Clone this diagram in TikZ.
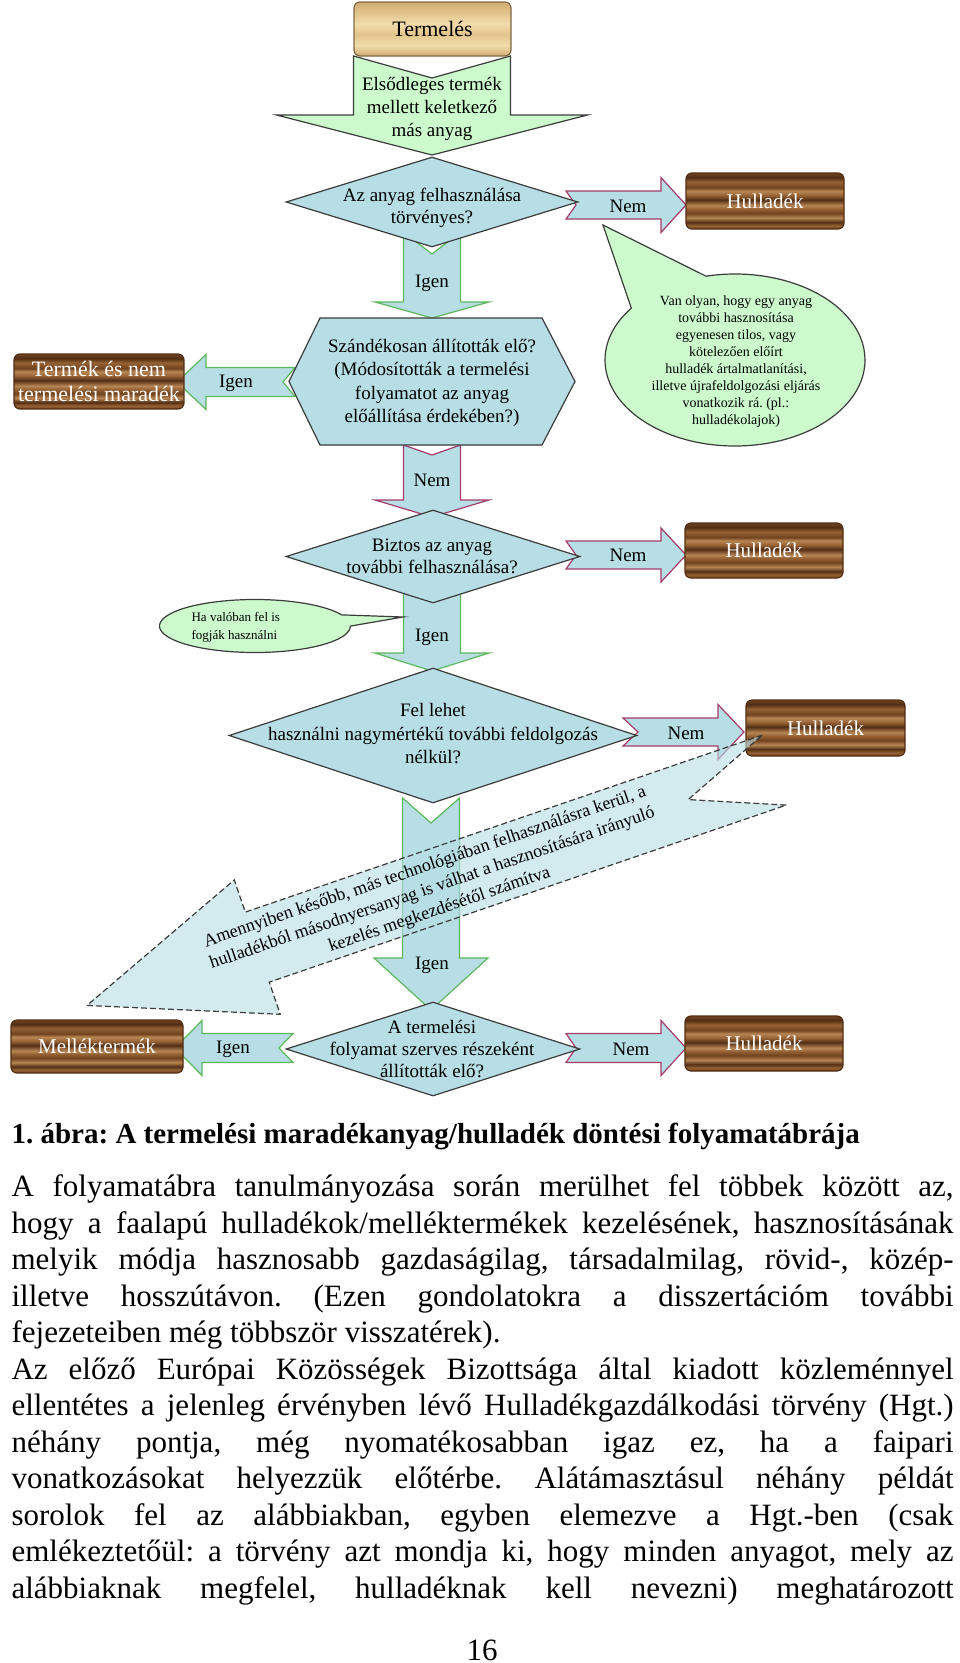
\documentclass[tikz,border=0pt]{standalone}
\usepackage{fontspec}
\setmainfont{Liberation Serif}
\frenchspacing
\usetikzlibrary{shapes.geometric,shapes.callouts}

\definecolor{leafgreen}{RGB}{204,250,204}
\definecolor{paleblue}{RGB}{183,221,229}
\definecolor{yesline}{RGB}{92,184,92}
\definecolor{noline}{RGB}{165,60,105}
\definecolor{inkgray}{RGB}{60,60,60}
\definecolor{woodA}{RGB}{112,66,31}
\definecolor{woodB}{RGB}{150,98,52}
\definecolor{woodC}{RGB}{184,134,84}
\definecolor{woodD}{RGB}{82,46,20}
\definecolor{pineA}{RGB}{226,196,140}
\definecolor{pineB}{RGB}{242,220,172}
\definecolor{pineC}{RGB}{208,172,114}

\pgfdeclareverticalshading{darkwood}{100bp}{color(0bp)=(woodA); color(25bp)=(woodA);
  color(28bp)=(woodB); color(31bp)=(woodD); color(35bp)=(woodC); color(39bp)=(woodA);
  color(43bp)=(woodB); color(46bp)=(woodC); color(51bp)=(woodD); color(55bp)=(woodB);
  color(59bp)=(woodC); color(62bp)=(woodA); color(67bp)=(woodB); color(71bp)=(woodD);
  color(75bp)=(woodA); color(100bp)=(woodA)}
\pgfdeclareverticalshading{lightwood}{100bp}{color(0bp)=(pineC); color(25bp)=(pineC);
  color(35bp)=(pineB); color(45bp)=(pineA); color(55bp)=(pineB); color(65bp)=(pineA);
  color(75bp)=(pineC); color(100bp)=(pineC)}

% style, tail centre, angle, length, shaft half, head half, head length, notch
\newcommand{\fatarrow}[8]{%
  \draw[#1, shift={#2}, rotate=#3]
    (0,#5) -- ({#4-#7},#5) -- ({#4-#7},#6) -- (#4,0) -- ({#4-#7},-#6)
    -- ({#4-#7},-#5) -- (0,-#5) -- (#8,0) -- cycle;}

\begin{document}
\begin{tikzpicture}[x=1pt, y=-1pt, line width=1.2pt,
  qtext/.style={align=center, font=\fontsize{19}{22}\selectfont, inner sep=0pt},
  decision/.style={diamond, draw=inkgray, fill=paleblue, inner sep=0pt},
  woodbox/.style={rounded corners=6pt, draw=woodD, shade, shading=darkwood, text=white,
    inner sep=0pt, align=center, font=\fontsize{21}{25}\selectfont},
  yesarrow/.style={draw=yesline, fill=paleblue},
  noarrow/.style={draw=noline, fill=paleblue},
  bubble/.style={ellipse callout, draw=inkgray, fill=leafgreen}]
  \fill[white] (0,0) rectangle (960,1663);
  \useasboundingbox (0,0) rectangle (960,1663);

  % block arrows
  \fatarrow{draw=inkgray, fill=leafgreen}{(432,56)}{-90}{99}{78.5}{155.5}{40}{22}
  \fatarrow{noarrow}{(566,205)}{0}{120}{14}{27.5}{25}{10}
  \fatarrow{yesarrow}{(432,232)}{-90}{86}{28.5}{57}{16}{22}
  \fatarrow{yesarrow}{(295,382)}{180}{118}{14.5}{27.5}{29}{12}
  \fatarrow{noarrow}{(432,445)}{-90}{72}{28.5}{57}{17}{10}
  \fatarrow{noarrow}{(566,555)}{0}{120}{14}{27}{25}{10}
  \fatarrow{yesarrow}{(432,590)}{-90}{81}{28.5}{57}{18}{12}
  \fatarrow{yesarrow}{(431,798)}{-90}{212}{28.5}{57}{52}{25}
  \fatarrow{noarrow}{(623,732)}{0}{121}{14}{27.5}{26}{15}
  \fatarrow{yesarrow}{(293,1048)}{180}{118}{14.5}{27.5}{27}{14}
  \fatarrow{noarrow}{(566,1048)}{0}{120}{14.5}{27.5}{25}{10}

  % questions
  \path node (d1) at (432,202)    [decision, minimum width=292pt, minimum height=90pt] {}
        node (d2) at (433,556.5)  [decision, minimum width=294pt, minimum height=93pt] {}
        node (d3) at (433,735.5)  [decision, minimum width=408pt, minimum height=135pt] {}
        node (d4) at (433,1049)   [decision, minimum width=294pt, minimum height=94pt] {};
  \draw[draw=inkgray, fill=paleblue] (320,318) -- (542,318) -- (575,381.5) -- (542,445)
    -- (320,445) -- (289,381.5) -- cycle;
  \path node (srcq) at (432,109)  [qtext, font=\fontsize{19}{23}\selectfont]
          {Elsődleges termék\\mellett keletkező\\más anyag}
        node (d1t) at (432,208)   [qtext] {Az anyag felhasználása\\törvényes?}
        node (hexq) at (432,383)  [qtext, font=\fontsize{19}{23.5}\selectfont]
          {Szándékosan állították elő?\\(Módosították a termelési\\folyamatot az anyag\\előállítása érdekében?)}
        node (d2t) at (432,556)   [qtext] {Biztos az anyag\\további felhasználása?}
        node (d3t) at (433,734)   [qtext, font=\fontsize{19}{23.5}\selectfont]
          {Fel lehet\\használni nagymértékű további feldolgozás\\nélkül?}
        node (d4t) at (432,1049)  [qtext] {A termelési\\folyamat szerves részeként\\állították elő?};

  % wooden boxes
  \path node (prod) at (432.5,29) [woodbox, shading=lightwood, text=black, draw=pineC!60!black,
          font=\fontsize{22}{25}\selectfont, minimum width=157pt, minimum height=54pt] {Termelés}
        node (hul1) at (765,201)     [woodbox, minimum width=158pt, minimum height=56pt] {Hulladék}
        node (maradek) at (99,381.5) [woodbox, font=\fontsize{22}{25}\selectfont,
          minimum width=170pt, minimum height=55pt] {Termék és nem\\termelési maradék}
        node (hul2) at (764,550.5)   [woodbox, minimum width=158pt, minimum height=55pt] {Hulladék}
        node (hul3) at (825.5,728)   [woodbox, minimum width=159pt, minimum height=56pt] {Hulladék}
        node (mellek) at (97,1046.5) [woodbox, minimum width=172pt, minimum height=53pt] {Melléktermék}
        node (hul4) at (764,1043.5)  [woodbox, minimum width=158pt, minimum height=55pt] {Hulladék};

  % callouts
  \coordinate (tip1) at (603,225);
  \coordinate (tip2) at (403,617);
  \node (bub1) at (735,360) [bubble, minimum width=260pt, minimum height=172pt,
    callout absolute pointer=(tip1), callout pointer arc=40] {};
  \node (bub2) at (255,626) [bubble, minimum width=191pt, minimum height=53pt,
    callout absolute pointer=(tip2), callout pointer arc=25] {};
  \node (bub1t) at (736,362) [align=center, inner sep=0pt, font=\fontsize{14}{17}\selectfont]
    {Van olyan, hogy egy anyag\\további hasznosítása\\egyenesen tilos, vagy\\kötelezően előírt\\hulladék ártalmatlanítási,\\illetve újrafeldolgozási eljárás\\vonatkozik rá. (pl.:\\hulladékolajok)};
  \node (bub2t) at (191,627) [anchor=west, align=left, inner sep=0pt, font=\fontsize{13}{18}\selectfont]
    {Ha valóban fel is\\fogják használni};

  % dashed back arrow
  \fatarrow{draw=inkgray, dash pattern=on 6pt off 3pt, fill=paleblue, fill opacity=0.6}{(774.3,770.1)}{198.9}{726.5}{37}{71}{180}{91}
  \node (recyt) at (432.3,888.8) [rotate=18.9, align=center, inner sep=0pt, font=\fontsize{18}{22.5}\selectfont]
    {Amennyiben később, más technológiában felhasználásra kerül, a\\hulladékból másodnyersanyag is válhat a hasznosítására irányuló\\kezelés megkezdésétől számítva};

  % arrow labels
  \path node (no1)  at (628,206)  [qtext] {Nem}
        node (yes1) at (432,283)  [qtext] {Igen}
        node (yes1l) at (236,383) [qtext] {Igen}
        node (no1v) at (432,480)  [qtext] {Nem}
        node (no2)  at (628,555)  [qtext] {Nem}
        node (yes2) at (432,637)  [qtext] {Igen}
        node (no3)  at (686,733)  [qtext] {Nem}
        node (yes3) at (432,965)  [qtext] {Igen}
        node (yes4l) at (233,1049) [qtext] {Igen}
        node (no4)  at (631,1049) [qtext] {Nem};

  % caption and text below
  \node (caption) at (11,1143) [anchor=base west, inner sep=0pt, font=\bfseries\fontsize{29}{34}\selectfont]
    {1. ábra: A termelési maradékanyag/hulladék döntési folyamatábrája};
  \node (body) at (11,1174.5) [anchor=north west, inner sep=0pt, text width=942pt, align=justify,
    font=\fontsize{31}{36.5}\selectfont]
    {\parindent=0pt\tolerance=10000\hyphenpenalty=10000
     A folyamatábra tanulmányozása során merülhet fel többek között az,\linebreak
     hogy a faalapú hulladékok/melléktermékek kezelésének, hasznosításának\linebreak
     melyik módja hasznosabb gazdaságilag, társadalmilag, rövid-, közép-\linebreak
     illetve hosszútávon. (Ezen gondolatokra a disszertációm további\linebreak
     fejezeteiben még többször visszatérek).\par
     Az előző Európai Közösségek Bizottsága által kiadott közleménnyel\linebreak
     ellentétes a jelenleg érvényben lévő Hulladékgazdálkodási törvény (Hgt.)\linebreak
     néhány pontja, még nyomatékosabban igaz ez, ha a faipari\linebreak
     vonatkozásokat helyezzük előtérbe. Alátámasztásul néhány példát\linebreak
     sorolok fel az alábbiakban, egyben elemezve a Hgt.-ben (csak\linebreak
     emlékeztetőül: a törvény azt mondja ki, hogy minden anyagot, mely az\linebreak
     alábbiaknak megfelel, hulladéknak kell nevezni) meghatározott\parfillskip=0pt\par};
  \node (pageno) at (482,1660) [anchor=base, inner sep=0pt, font=\fontsize{31}{36}\selectfont] {16};
\end{tikzpicture}
\end{document}
